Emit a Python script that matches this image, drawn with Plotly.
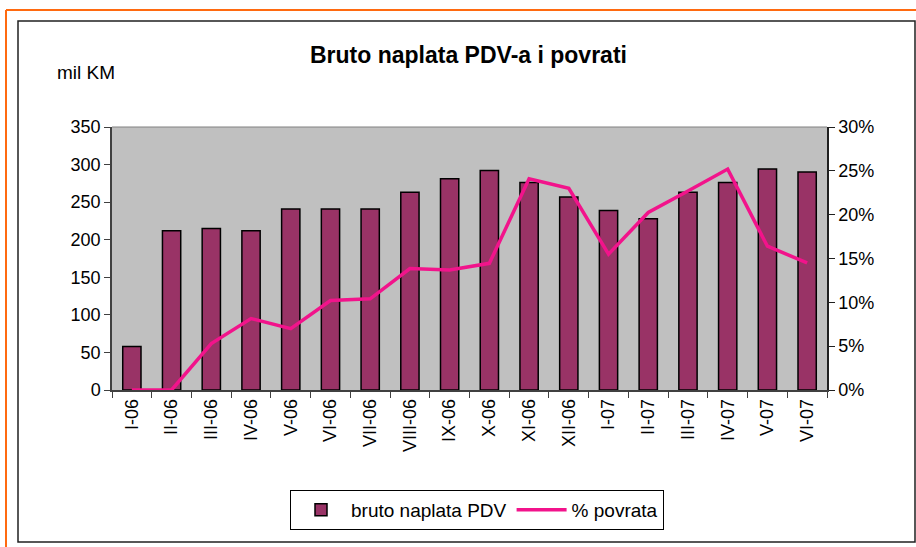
import plotly.graph_objects as go

months = ["I-06", "II-06", "III-06", "IV-06", "V-06", "VI-06", "VII-06", "VIII-06", "IX-06",
          "X-06", "XI-06", "XII-06", "I-07", "II-07", "III-07", "IV-07", "V-07", "VI-07"]
bruto_naplata = [58, 212, 215, 212, 241, 241, 241, 263, 281, 292, 276, 257, 239, 228, 263, 276, 294, 290]
povrat_pct = [0.0, 0.0, 0.053, 0.0815, 0.070, 0.102, 0.104, 0.1385, 0.1368, 0.1445,
              0.241, 0.230, 0.155, 0.2025, 0.227, 0.252, 0.164, 0.145]

FONT = "Arial, Liberation Sans, sans-serif"
W, H = 916, 547
L, R, T, B = 112, 827, 127, 390

def px(x):
    return (x - L) / (R - L)

def py(y):
    return (B - y) / (B - T)

fig = go.Figure()
fig.add_trace(go.Bar(
    x=months, y=bruto_naplata, name="bruto naplata PDV",
    marker=dict(color="#993366", line=dict(color="black", width=1.5)),
    yaxis="y"))
fig.add_trace(go.Scatter(
    x=months, y=povrat_pct, name="% povrata", mode="lines",
    line=dict(color="#F2138B", width=3.5), yaxis="y2"))

shapes = [
    dict(type="line", xref="paper", yref="paper", x0=px(6), x1=px(916), y0=py(10), y1=py(10),
         line=dict(color="#FF6A10", width=2)),
    dict(type="line", xref="paper", yref="paper", x0=px(6), x1=px(6), y0=py(10), y1=py(547),
         line=dict(color="#FF6A10", width=2)),
    dict(type="rect", xref="paper", yref="paper", x0=px(18), x1=px(915), y0=py(21), y1=py(542),
         line=dict(color="#202020", width=1.5)),
    dict(type="line", xref="paper", yref="paper", x0=0, x1=1, y0=1, y1=1,
         line=dict(color="#808080", width=1)),
]

fig.update_layout(
    width=W, height=H,
    margin=dict(l=L, r=W - R, t=T, b=H - B, pad=0),
    paper_bgcolor="white",
    plot_bgcolor="#C0C0C0",
    font=dict(family=FONT, size=18, color="black"),
    bargap=0.54,
    showlegend=True,
    legend=dict(orientation="h", x=px(477), xanchor="center", y=py(490), yanchor="top",
                bordercolor="black", borderwidth=1, bgcolor="white",
                font=dict(family=FONT, size=19), itemwidth=50, tracegroupgap=0),
    xaxis=dict(type="category", showgrid=False, showline=True, linecolor="#404040", linewidth=1.5,
               ticks="outside", tickson="boundaries", ticklen=6, tickcolor="#404040",
               tickangle=-90, tickfont=dict(size=18), zeroline=False),
    yaxis=dict(range=[0, 350], dtick=50, showgrid=False, showline=True, linecolor="#404040",
               linewidth=1.5, ticks="outside", ticklen=6, tickcolor="#404040",
               tickfont=dict(size=18), zeroline=False),
    yaxis2=dict(range=[0, 0.30], dtick=0.05, tickformat=".0%", overlaying="y", side="right",
                showgrid=False, showline=True, linecolor="#202020", linewidth=1.5,
                ticks="outside", ticklen=6, tickcolor="#202020", tickfont=dict(size=18),
                zeroline=False),
    shapes=shapes,
    annotations=[
        dict(text="<b>Bruto naplata PDV-a i povrati</b>", xref="paper", yref="paper",
             x=px(468), y=py(55), xanchor="center", yanchor="middle", showarrow=False,
             font=dict(family=FONT, size=23, color="black")),
        dict(text="mil KM", xref="paper", yref="paper", x=px(55), y=py(72),
             xanchor="left", yanchor="middle", showarrow=False,
             font=dict(family=FONT, size=19, color="black")),
    ],
)

fig.write_html("out.html", config={"displayModeBar": False},
               post_script="document.body.style.margin='0px';document.body.style.padding='0px';")
